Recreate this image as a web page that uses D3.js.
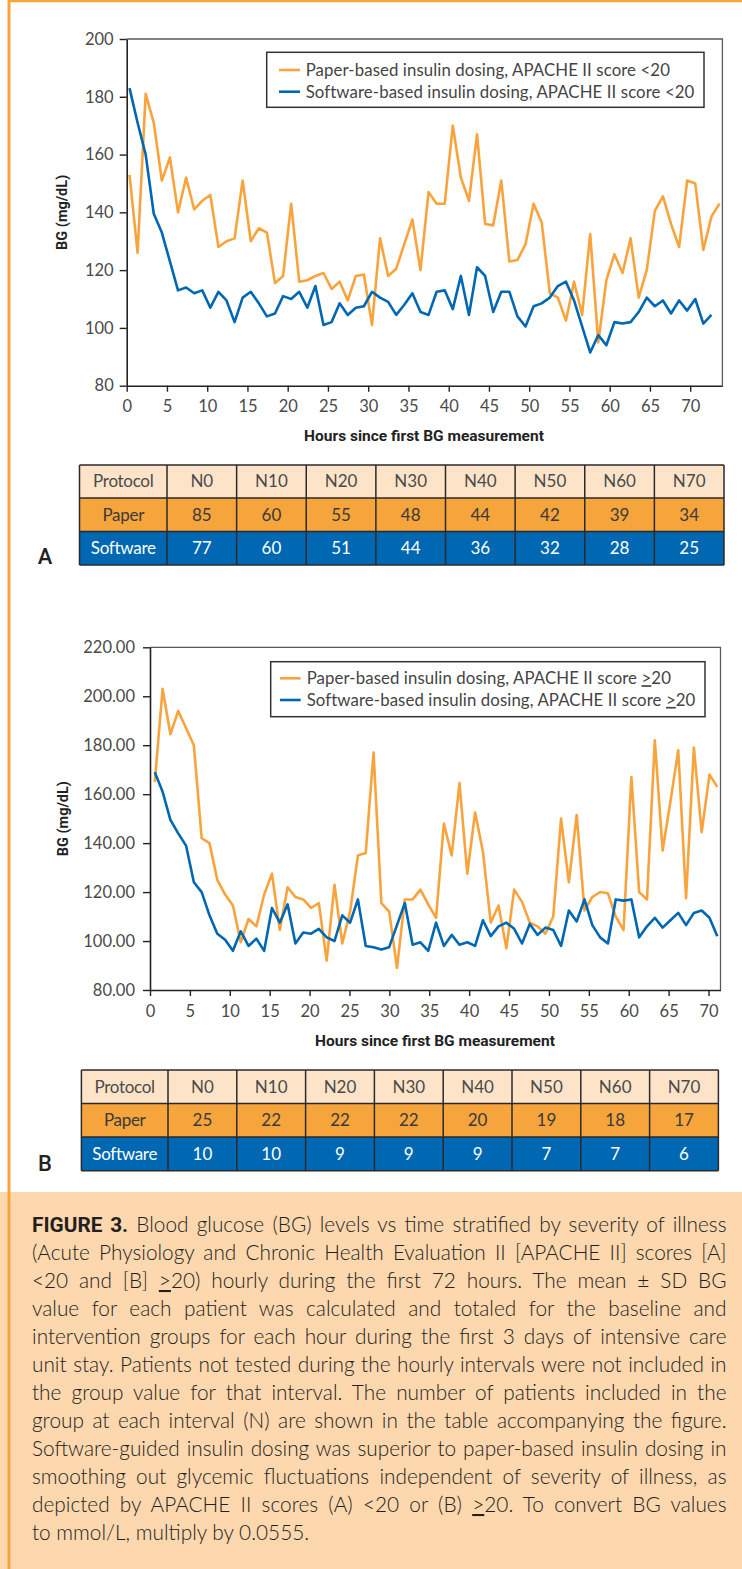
<!DOCTYPE html>
<html>
<head>
<meta charset="utf-8">
<script src="https://cdn.jsdelivr.net/npm/d3@7"></script>
<style>
  body { margin: 0; background: #fff; }
  svg text { font-family: Lato, "Open Sans", sans-serif; }
</style>
</head>
<body>
<div id="fig"></div>
<script>

// ---- data ----
// Panel A: APACHE II score < 20 (hourly mean BG, mg/dL)
var paperA = [153,126,181,171,151,159,140,152,141,144,
	146,128,130,131,151,130,134.5,133,115.5,118,
	143,116,116.5,118,119,113.5,116,109.5,118,118.5,
	101,131,118,120.5,129,137.5,120,147,143,143,
	170,152,144,167,136,135.5,151,123,123.5,129,
	143,136.5,112,110.5,102.5,116,104.5,132.5,95,116.5,
	125.5,119,131,110.5,120,140.5,145.5,136,128,151,
	150,127,138.5,143];
var softwareA = [183,171,160,139.5,133,123,113,114,112,113,
	107,112.5,109.5,102,110.5,112.5,108.5,104,105,111,
	110,112.5,107,114.5,101,102,108.5,104.5,107,107.5,
	112.5,110.5,109,104.5,108,112,105.5,104.5,112.5,113,
	106.5,118,104.5,121,118,105.5,112.5,112.5,104,100.5,
	107.5,108.5,110.5,114.5,116,109.5,100.5,91.5,97.5,94,
	102,101.5,102,105.5,110.5,107.5,109.5,105,109.5,106,
	110,101.5,104.5];

// Panel B: APACHE II score >= 20
var paperB = [165,203,184.5,194,187,180,142,140,125,119,
	114.5,99.5,109,106,119,127.5,104.5,122,118,117,
	113.5,115.5,92,123,99,112,135,136,177,115.5,
	112,89,117,117,121,115,109.5,148,135,164.5,
	127.5,152.5,136.5,107.5,114.5,97,121,116,107.5,106,
	103,110,150,124,151.5,112.5,118,120,119.5,110,
	104.5,167,120,117,182,137,157,178,117.5,179,
	144.5,168,163];
var softwareB = [169,161,149.5,144,139,124,120,110.5,103,100.5,
	96,104,98,101,96,113.5,107.5,115,99,103.5,
	103,105,101.5,100,110.5,107.5,117,98,97.5,96.5,
	97.5,106.5,115.5,98.5,99.5,96,107.5,98,102.5,98.5,
	99.5,98,108.5,102,106,107.5,105,99,107,102.5,
	105.5,104.5,98,112.5,108,117,106.5,101.5,99,117,
	116.5,117,101.5,106,109.5,105.5,108.5,111.5,106.5,111.5,
	112.5,109.5,102];

var xTicks = [0,5,10,15,20,25,30,35,40,45,50,55,60,65,70];
var yTicksA = [80,100,120,140,160,180,200];
var yTicksB = [80,100,120,140,160,180,200,220];

// number of patients table
var tableCols = ["N0","N10","N20","N30","N40","N50","N60","N70"];
var paperNA = [85,60,55,48,44,42,39,34];
var softwareNA = [77,60,51,44,36,32,28,25];
var paperNB = [25,22,22,22,20,19,18,17];
var softwareNB = [10,10,9,9,9,7,7,6];

var captionLines = [
	[["b","FIGURE 3."],["n"," Blood glucose (BG) levels vs time stratified by severity of illness"]],
	[["n","(Acute Physiology and Chronic Health Evaluation II [APACHE II] scores [A]"]],
	[["n","<20 and [B] "],["u",">"],["n","20) hourly during the first 72 hours. The mean \u00b1 SD BG"]],
	[["n","value for each patient was calculated and totaled for the baseline and"]],
	[["n","intervention groups for each hour during the first 3 days of intensive care"]],
	[["n","unit stay. Patients not tested during the hourly intervals were not included in"]],
	[["n","the group value for that interval. The number of patients included in the"]],
	[["n","group at each interval (N) are shown in the table accompanying the figure."]],
	[["n","Software-guided insulin dosing was superior to paper-based insulin dosing in"]],
	[["n","smoothing out glycemic fluctuations independent of severity of illness, as"]],
	[["n","depicted by APACHE II scores (A) <20 or (B) "],["u",">"],["n","20. To convert BG values"]],
	[["n","to mmol/L, multiply by 0.0555."]]
];

// ---- styling ----
var ORANGE = "#f9a33c", BLUE = "#0067b2";
var W = 742, H = 1569;

var svg = d3.select("#fig").append("svg")
	.attr("width", W)
	.attr("height", H);

// caption background + orange figure border
svg.append("rect").attr("x", 0).attr("y", 1192).attr("width", W).attr("height", H - 1192)
	.attr("fill", "#fdd7ae");
svg.append("line").attr("x1", 9).attr("x2", 9).attr("y1", 0).attr("y2", H)
	.attr("stroke", ORANGE).attr("stroke-width", 3);
svg.append("line").attr("x1", 8).attr("x2", W).attr("y1", 1).attr("y2", 1)
	.attr("stroke", ORANGE).attr("stroke-width", 2.5);

function drawChart(cfg) {
	var g = svg.append("g");

	var x = d3.scaleLinear().domain(cfg.xDomain).range([cfg.left, cfg.right]);
	var y = d3.scaleLinear().domain(cfg.yDomain).range([cfg.bottom, cfg.top]);

	// data points sit on an evenly spaced hourly grid, slightly offset from the ticks
	var xi = d3.scalePoint()
		.domain(d3.range(cfg.nPoints))
		.range([x(cfg.firstT), x(cfg.lastT)]);

	// top/right frame
	g.append("path")
		.attr("d", "M" + cfg.left + "," + cfg.top + "H" + cfg.right + "V" + cfg.bottom)
		.attr("fill", "none").attr("stroke", "#5a5a5a").attr("stroke-width", 1.3);

	var yAxis = g.append("g")
		.attr("transform", "translate(" + cfg.left + ",0)")
		.call(d3.axisLeft(y).tickValues(cfg.yTicks).tickFormat(cfg.yFmt)
			.tickSize(7).tickSizeOuter(0).tickPadding(cfg.yPad));
	var xAxis = g.append("g")
		.attr("transform", "translate(0," + cfg.bottom + ")")
		.call(d3.axisBottom(x).tickValues(xTicks).tickSize(6).tickSizeOuter(0).tickPadding(9));

	[xAxis, yAxis].forEach(function(a) {
		a.select(".domain").attr("stroke", "#222").attr("stroke-width", 1.6);
		a.selectAll(".tick line").attr("stroke", "#222").attr("stroke-width", 1.4);
		a.selectAll(".tick text")
			.attr("fill", "#4a4a4a")
			.style("font-size", "16.5px")
			.style("font-family", "Lato, sans-serif");
	});

	// lines
	var line = d3.line()
		.x(function(d, i) { return xi(i); })
		.y(function(d) { return y(d); });
	g.append("path").datum(cfg.paper)
		.attr("d", line).attr("fill", "none")
		.attr("stroke", ORANGE).attr("stroke-width", 2.6).attr("stroke-linejoin", "round");
	g.append("path").datum(cfg.software)
		.attr("d", line).attr("fill", "none")
		.attr("stroke", BLUE).attr("stroke-width", 2.6).attr("stroke-linejoin", "round");

	// axis titles
	g.append("text")
		.attr("transform", "translate(" + cfg.yTitleX + "," + ((cfg.top + cfg.bottom) / 2) + ") rotate(-90)")
		.attr("text-anchor", "middle")
		.attr("dy", "0.35em")
		.style("font-family", "Roboto, sans-serif")
		.style("font-weight", "bold")
		.style("font-size", "14.5px")
		.attr("fill", "#222")
		.text("BG (mg/dL)");
	g.append("text")
		.attr("x", cfg.xTitleX)
		.attr("y", cfg.xTitleY)
		.attr("text-anchor", "middle")
		.attr("dy", "0.35em")
		.style("font-family", "Roboto, sans-serif")
		.style("font-weight", "bold")
		.style("font-size", "15.5px")
		.attr("fill", "#222")
		.text("Hours since first BG measurement");

	// legend
	var L = cfg.legend;
	g.append("rect")
		.attr("x", L.x0).attr("y", L.y0)
		.attr("width", L.x1 - L.x0).attr("height", L.y1 - L.y0)
		.attr("fill", "#fff").attr("stroke", "#333").attr("stroke-width", 1.5);
	var items = [
		{name: "Paper-based insulin dosing, APACHE II score ", color: ORANGE},
		{name: "Software-based insulin dosing, APACHE II score ", color: BLUE}
	];
	items.forEach(function(it, i) {
		var yy = L.rows[i];
		g.append("line")
			.attr("x1", L.lineX0).attr("x2", L.lineX1)
			.attr("y1", yy).attr("y2", yy)
			.attr("stroke", it.color).attr("stroke-width", 2.6);
		var t = g.append("text")
			.attr("x", L.textX).attr("y", yy)
			.attr("dy", "0.35em")
			.attr("fill", "#444")
			.style("font-size", "16.8px")
			.style("letter-spacing", "0.1px");
		t.append("tspan").text(it.name);
		if (cfg.geq) {
			t.append("tspan").style("text-decoration", "underline").text(">");
			t.append("tspan").text("20");
		} else {
			t.append("tspan").text("<20");
		}
	});
}

function drawTable(cfg) {
	var g = svg.append("g");
	var col = d3.scaleBand().domain(tableCols).range([cfg.x0 + cfg.firstW, cfg.x1]);
	var rows = [
		{label: "Protocol", vals: tableCols, fill: "#fde4c9", color: "#4a4a4a"},
		{label: "Paper", vals: cfg.paper, fill: "#f6a43c", color: "#3a3a3a"},
		{label: "Software", vals: cfg.software, fill: "#0067b2", color: "#fff"}
	];
	rows.forEach(function(r, i) {
		var y0 = cfg.rowY[i], y1 = cfg.rowY[i + 1];
		g.append("rect").attr("x", cfg.x0).attr("y", y0)
			.attr("width", cfg.x1 - cfg.x0).attr("height", y1 - y0)
			.attr("fill", r.fill);
		g.append("text")
			.attr("x", cfg.x0 + cfg.firstW / 2).attr("y", (y0 + y1) / 2)
			.attr("dy", "0.35em").attr("text-anchor", "middle")
			.attr("fill", r.color).style("font-size", "17px")
			.style("letter-spacing", "-0.3px")
			.text(r.label);
		g.selectAll(null).data(r.vals).enter().append("text")
			.attr("x", function(d, j) { return col(tableCols[j]) + col.bandwidth() / 2; })
			.attr("y", (y0 + y1) / 2)
			.attr("dy", "0.35em").attr("text-anchor", "middle")
			.attr("fill", r.color).style("font-size", "17px")
			.text(function(d) { return d; });
	});
	// grid lines
	var gridColor = "#2a2a2a";
	cfg.rowY.forEach(function(yy) {
		g.append("line").attr("x1", cfg.x0).attr("x2", cfg.x1).attr("y1", yy).attr("y2", yy)
			.attr("stroke", gridColor).attr("stroke-width", 1.5);
	});
	var xs = [cfg.x0].concat(tableCols.map(function(c) { return col(c); })).concat([cfg.x1]);
	xs.forEach(function(xx) {
		g.append("line").attr("x1", xx).attr("x2", xx)
			.attr("y1", cfg.rowY[0]).attr("y2", cfg.rowY[3])
			.attr("stroke", gridColor).attr("stroke-width", 1.5);
	});
	g.append("text")
		.attr("x", cfg.labelX).attr("y", cfg.labelY)
		.attr("dy", "0.35em").attr("text-anchor", "middle")
		.style("font-family", "Roboto, sans-serif")
		.style("font-weight", 500)
		.style("font-size", "22px")
		.attr("fill", "#222")
		.text(cfg.label);
}

drawChart({
	left: 126.7, right: 722.4, top: 39, bottom: 385.7,
	xDomain: [0, 74], yDomain: [80, 200],
	yTicks: yTicksA, yFmt: d3.format("d"), yPad: 6,
	nPoints: 74, firstT: 0.35, lastT: 73.64,
	paper: paperA, software: softwareA,
	yTitleX: 62, xTitleX: 424, xTitleY: 436,
	geq: false,
	legend: {x0: 266.7, x1: 704, y0: 52.3, y1: 107.3, rows: [70, 91.7],
		lineX0: 279, lineX1: 300, textX: 305.7}
});

drawTable({
	x0: 79.5, x1: 724, firstW: 87.5, rowY: [465, 498, 531.5, 565],
	paper: paperNA, software: softwareNA,
	label: "A", labelX: 45, labelY: 556
});

drawChart({
	left: 150, right: 720.5, top: 647.3, bottom: 990,
	xDomain: [0, 71.5], yDomain: [80, 220],
	yTicks: yTicksB, yFmt: d3.format(".2f"), yPad: 8,
	nPoints: 73, firstT: 0.6, lastT: 71.1,
	paper: paperB, software: softwareB,
	yTitleX: 63, xTitleX: 435, xTitleY: 1040.5,
	geq: true,
	legend: {x0: 270.7, x1: 705, y0: 661.7, y1: 716.7, rows: [678.3, 700],
		lineX0: 280, lineX1: 300.7, textX: 306.7}
});

drawTable({
	x0: 81.4, x1: 718.4, firstW: 86.6, rowY: [1070, 1103.5, 1137, 1170.7],
	paper: paperNB, software: softwareNB,
	label: "B", labelX: 45, labelY: 1163
});

// ---- caption, justified line by line ----
var capX0 = 32, capX1 = 726.5;
captionLines.forEach(function(segs, i) {
	var t = svg.append("text")
		.attr("x", capX0)
		.attr("y", 1232 + i * 28)
		.attr("fill", "#231f20")
		.style("font-size", "20.8px")
		.style("font-weight", 300);
	segs.forEach(function(s) {
		var sp = t.append("tspan").text(s[1]);
		if (s[0] === "b") sp.style("font-weight", "bold").style("font-family", "Roboto, sans-serif");
		if (s[0] === "u") sp.style("text-decoration", "underline");
	});
	if (i < captionLines.length - 1) {
		var natural = t.node().getComputedTextLength();
		var spaces = segs.map(function(s) { return s[1]; }).join("").split(" ").length - 1;
		if (spaces > 0) t.style("word-spacing", ((capX1 - capX0 - natural) / spaces) + "px");
	}
});
</script>
</body>
</html>
